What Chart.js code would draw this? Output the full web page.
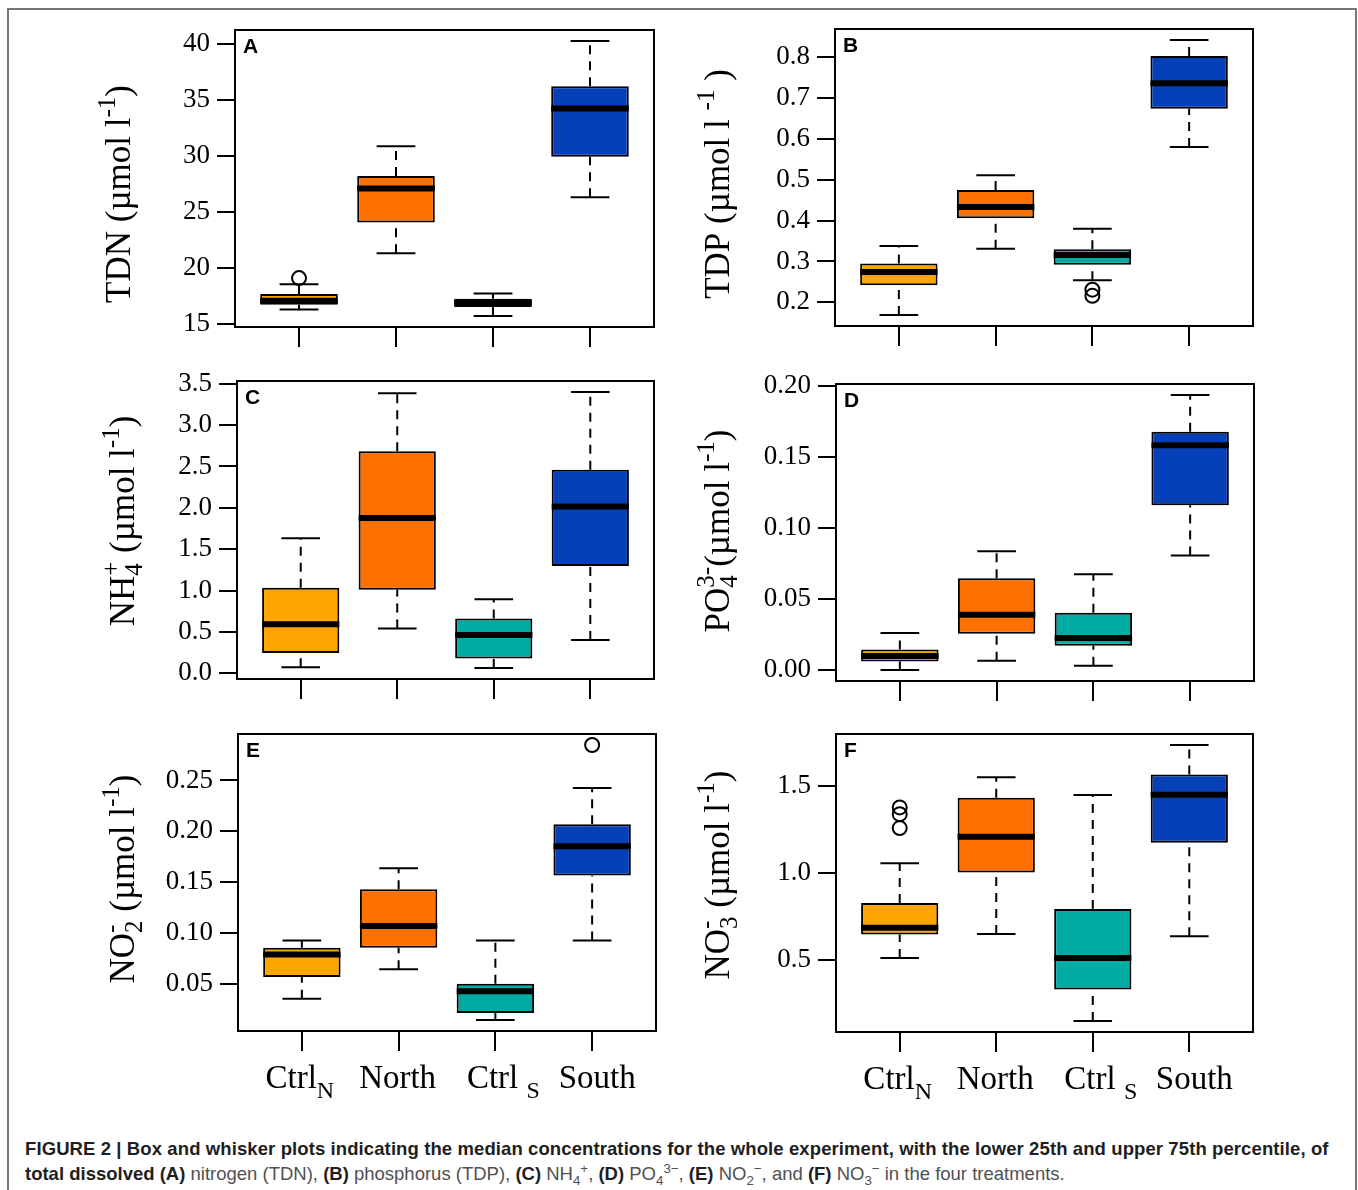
<!DOCTYPE html>
<html>
<head>
<meta charset="utf-8">
<script src="https://cdn.jsdelivr.net/npm/chart.js@4.4.1/dist/chart.umd.min.js"></script>
<style>
  body { margin: 0; background: #fff; width: 1358px; height: 1190px; position: relative; overflow: hidden; }
  .frame { position: absolute; left: 7px; top: 8px; width: 1346px; height: 1200px; border: 2px solid #777; border-bottom: none; }
  canvas { position: absolute; }
  .caption { position: absolute; left: 25px; top: 1136px; font-family: "Liberation Sans", Arial, sans-serif; font-size: 18.5px; line-height: 25px; color: #505050; white-space: nowrap; }
  .caption b { color: #1e1e1e; }
  .caption .head { letter-spacing: 0.1px; }
  .caption sub, .caption sup { font-size: 0.72em; line-height: 0; }
</style>
</head>
<body>
<div class="frame"></div>
<canvas id="panelA"></canvas>
<canvas id="panelB"></canvas>
<canvas id="panelC"></canvas>
<canvas id="panelD"></canvas>
<canvas id="panelE"></canvas>
<canvas id="panelF"></canvas>
<div class="caption">
<b class="head">FIGURE 2 | Box and whisker plots indicating the median concentrations for the whole experiment, with the lower 25th and upper 75th percentile, of</b><br>
<b>total dissolved (A)</b> nitrogen (TDN), <b>(B)</b> phosphorus (TDP), <b>(C)</b> NH<sub>4</sub><sup>+</sup>, <b>(D)</b> PO<sub>4</sub><sup>3−</sup>, <b>(E)</b> NO<sub>2</sub><sup>−</sup>, and <b>(F)</b> NO<sub>3</sub><sup>−</sup> in the four treatments.
</div>
<script>
// treatments, in plotting order
const groups = ['Ctrl_N', 'North', 'Ctrl_S', 'South'];
const groupLabels = [['Ctrl', 'N'], ['North', ''], ['Ctrl ', 'S'], ['South', '']];
const groupColors = ['#FFA500', '#FF7000', '#00ABA3', '#0540B8'];

// per treatment: lower whisker, Q1, median, Q3, upper whisker
const tdnBox = [
  [16.28, 16.70, 17.05, 17.65, 18.54],
  [21.31, 24.05, 27.11, 28.21, 30.89],
  [15.69, 16.49, 16.88, 17.23, 17.70],
  [26.31, 29.94, 34.26, 36.25, 40.30]
];
const tdnOut = [[19.08], [], [], []];
const tdnTicks = [15, 20, 25, 30, 35, 40];

const tdpBox = [
  [0.169, 0.242, 0.274, 0.295, 0.338],
  [0.331, 0.406, 0.433, 0.475, 0.511],
  [0.254, 0.292, 0.316, 0.330, 0.380],
  [0.580, 0.674, 0.736, 0.803, 0.842]
];
const tdpOut = [[], [], [0.231, 0.216], []];
const tdpTicks = [0.2, 0.3, 0.4, 0.5, 0.6, 0.7, 0.8];

const nh4Box = [
  [0.073, 0.246, 0.593, 1.034, 1.631],
  [0.541, 1.009, 1.877, 2.685, 3.383],
  [0.065, 0.178, 0.464, 0.662, 0.896],
  [0.404, 1.296, 2.015, 2.459, 3.399]
];
const nh4Out = [[], [], [], []];
const nh4Ticks = [0, 0.5, 1, 1.5, 2, 2.5, 3, 3.5];

const po4Box = [
  [0.0000, 0.0059, 0.0099, 0.0145, 0.0260],
  [0.0066, 0.0256, 0.0389, 0.0647, 0.0837],
  [0.0030, 0.0171, 0.0225, 0.0403, 0.0675],
  [0.0807, 0.1161, 0.1583, 0.1679, 0.1937]
];
const po4Out = [[], [], [], []];
const po4Ticks = [0, 0.05, 0.1, 0.15, 0.2];

const no2Box = [
  [0.0356, 0.0569, 0.0789, 0.0857, 0.0926],
  [0.0644, 0.0857, 0.1070, 0.1431, 0.1638],
  [0.0146, 0.0215, 0.0428, 0.0503, 0.0926],
  [0.0926, 0.1566, 0.1854, 0.2070, 0.2425]
];
const no2Out = [[], [], [], [0.2848]];
const no2Ticks = [0.05, 0.1, 0.15, 0.2, 0.25];

const no3Box = [
  [0.513, 0.648, 0.687, 0.829, 1.058],
  [0.650, 1.004, 1.210, 1.435, 1.552],
  [0.150, 0.331, 0.513, 0.794, 1.450],
  [0.637, 1.175, 1.452, 1.569, 1.738]
];
const no3Out = [[1.379, 1.340, 1.260], [], [], []];
const no3Ticks = [0.5, 1, 1.5];

const SERIF = '"Liberation Serif", "Times New Roman", serif';
const AXIS_W = 180, PAD_TOP = 30, PAD_RIGHT = 12, X_AXIS_H = 80;
// nudges for the bottom category names, in px
const labelShift = [-2, -1, 8, 5];

// text runs with sub/superscripts; a run marked stack sits over the previous one
function drawRich(ctx, parts, size, x, y, rotate) {
  const small = Math.round(size * 0.72);
  ctx.save();
  ctx.translate(x, y);
  if (rotate) ctx.rotate(-Math.PI / 2);
  let cursor = 0, prevStart = 0, prevEnd = 0;
  const runs = parts.map(p => {
    const fs = (p.sub || p.sup) ? small : size;
    ctx.font = fs + 'px ' + SERIF;
    const w = ctx.measureText(p.t).width;
    const start = p.stack ? prevStart : cursor;
    cursor = p.stack ? Math.max(prevEnd, start + w) : start + w;
    prevStart = start;
    prevEnd = start + w;
    return { p, fs, start };
  });
  const x0 = -cursor / 2;
  ctx.fillStyle = '#000';
  runs.forEach(({ p, fs, start }) => {
    ctx.font = fs + 'px ' + SERIF;
    const dy = p.sup ? -size * 0.36 : p.sub ? size * 0.3 : 0;
    ctx.fillText(p.t, x0 + start, dy);
  });
  ctx.restore();
}

const panelDecor = {
  id: 'panelDecor',
  afterDatasetsDraw(chart) {
    const { ctx, chartArea: a } = chart;
    ctx.save();
    ctx.strokeStyle = '#000';
    ctx.lineWidth = 2;
    ctx.strokeRect(a.left, a.top, a.right - a.left, a.bottom - a.top);
    ctx.restore();
  },
  afterDraw(chart, args, opts) {
    const { ctx, chartArea: a, scales } = chart;
    ctx.save();
    ctx.fillStyle = '#000';
    ctx.font = 'bold 21px "Liberation Sans", Arial, sans-serif';
    ctx.textBaseline = 'alphabetic';
    ctx.fillText(opts.letter, a.left + 8, a.top + 23);

    ctx.textBaseline = 'middle';
    drawRich(ctx, opts.title, 35, a.left + opts.titleDx, a.top + opts.titleDy, true);

    if (opts.xLabels) {
      ctx.textBaseline = 'alphabetic';
      groupLabels.forEach((lab, i) => {
        const parts = [{ t: lab[0] }];
        if (lab[1]) parts.push({ t: lab[1], sub: true });
        drawRich(ctx, parts, 33, scales.x.getPixelForValue(i + 1) + labelShift[i], a.bottom + 57, false);
      });
    }
    ctx.restore();
  }
};

function boxPanel(id, spec) {
  const canvas = document.getElementById(id);
  canvas.width = AXIS_W + spec.w + PAD_RIGHT;
  canvas.height = PAD_TOP + spec.h + X_AXIS_H;
  canvas.style.left = (spec.left - AXIS_W) + 'px';
  canvas.style.top = (spec.top - PAD_TOP) + 'px';

  const stats = spec.stats;
  const all = stats.flat().concat(spec.outliers.flat());
  const lo = Math.min(...all), hi = Math.max(...all), pad = (hi - lo) * 0.04;

  const boxes = [], medians = [], whiskers = [], caps = [], outliers = [];
  stats.forEach((s, i) => {
    const x = i + 1;
    boxes.push({ x, y: [s[1], s[3]] });
    medians.push({ x: x - 0.4, y: s[2] }, { x: x + 0.4, y: s[2] }, { x, y: null });
    whiskers.push({ x, y: s[3] }, { x, y: s[4] }, { x, y: null },
                  { x, y: s[0] }, { x, y: s[1] }, { x, y: null });
    caps.push({ x: x - 0.2, y: s[4] }, { x: x + 0.2, y: s[4] }, { x, y: null },
              { x: x - 0.2, y: s[0] }, { x: x + 0.2, y: s[0] }, { x, y: null });
    spec.outliers[i].forEach(v => outliers.push({ x, y: v }));
  });

  const seg = { pointRadius: 0, borderColor: '#000', tension: 0, spanGaps: false, fill: false };

  return new Chart(canvas, {
    type: 'bar',
    data: {
      datasets: [
        { type: 'scatter', data: outliers, order: 0, pointStyle: 'circle', pointRadius: 7,
          pointBorderWidth: 2, pointBorderColor: '#000', pointBackgroundColor: 'rgba(0,0,0,0)' },
        Object.assign({ type: 'line', data: medians, order: 1, borderWidth: 6, borderCapStyle: 'butt' }, seg),
        Object.assign({ type: 'line', data: caps, order: 2, borderWidth: 2 }, seg),
        Object.assign({ type: 'line', data: whiskers, order: 3, borderWidth: 2, borderDash: [9, 7] }, seg),
        { type: 'bar', data: boxes, order: 4, backgroundColor: groupColors, borderColor: '#000',
          borderWidth: 2, borderSkipped: false, categoryPercentage: 0.8, barPercentage: 1.0 }
      ]
    },
    options: {
      responsive: false,
      animation: false,
      devicePixelRatio: 1,
      events: [],
      layout: { padding: { top: PAD_TOP, right: PAD_RIGHT, left: 0, bottom: 0 } },
      plugins: {
        legend: { display: false },
        tooltip: { enabled: false },
        panelDecor: { letter: spec.letter, title: spec.title, titleDx: spec.titleDx,
                      titleDy: spec.titleDy, xLabels: spec.xLabels }
      },
      scales: {
        x: {
          type: 'linear', min: 0.34, max: 4.66, offset: false,
          grid: { offset: false, drawOnChartArea: false, tickLength: 20, lineWidth: 2, color: '#000' },
          border: { display: false },
          ticks: { display: false },
          afterBuildTicks: s => { s.ticks = groups.map((g, i) => ({ value: i + 1 })); },
          afterFit: s => { s.height = X_AXIS_H; }
        },
        y: {
          type: 'linear', min: lo - pad, max: hi + pad, beginAtZero: false,
          grid: { drawOnChartArea: false, tickLength: 18, lineWidth: 2, color: '#000' },
          border: { display: false },
          ticks: { color: '#000', padding: 7, autoSkip: false, font: { family: SERIF, size: 27 },
                   callback: v => v.toFixed(spec.dec) },
          afterBuildTicks: s => { s.ticks = spec.ticks.map(v => ({ value: v })); },
          afterFit: s => { s.width = AXIS_W; }
        }
      }
    },
    plugins: [panelDecor]
  });
}

const unit = [{ t: ' (µmol l' }, { t: '-1', sup: true }, { t: ')' }];

boxPanel('panelA', { letter: 'A', left: 235, top: 30, w: 419, h: 297, stats: tdnBox, outliers: tdnOut,
  ticks: tdnTicks, dec: 0, titleDx: -114, titleDy: 164,
  title: [{ t: 'TDN' }].concat(unit) });
boxPanel('panelB', { letter: 'B', left: 835, top: 29, w: 418, h: 297, stats: tdpBox, outliers: tdpOut,
  ticks: tdpTicks, dec: 1, titleDx: -115, titleDy: 155,
  title: [{ t: 'TDP (µmol l ' }, { t: '-1', sup: true }, { t: ' )' }] });
boxPanel('panelC', { letter: 'C', left: 237, top: 381, w: 417, h: 298, stats: nh4Box, outliers: nh4Out,
  ticks: nh4Ticks, dec: 1, titleDx: -112, titleDy: 140,
  title: [{ t: 'NH' }, { t: '4', sub: true }, { t: '+', sup: true, stack: true }].concat(unit) });
boxPanel('panelD', { letter: 'D', left: 836, top: 384, w: 418, h: 297, stats: po4Box, outliers: po4Out,
  ticks: po4Ticks, dec: 2, titleDx: -116, titleDy: 147,
  title: [{ t: 'PO' }, { t: '4', sub: true }, { t: '3-', sup: true, stack: true },
          { t: '(µmol l' }, { t: '-1', sup: true }, { t: ')' }] });
boxPanel('panelE', { letter: 'E', left: 238, top: 734, w: 418, h: 297, stats: no2Box, outliers: no2Out,
  ticks: no2Ticks, dec: 2, titleDx: -113, titleDy: 145, xLabels: true,
  title: [{ t: 'NO' }, { t: '2', sub: true }, { t: '-', sup: true, stack: true }].concat(unit) });
boxPanel('panelF', { letter: 'F', left: 836, top: 734, w: 417, h: 298, stats: no3Box, outliers: no3Out,
  ticks: no3Ticks, dec: 1, titleDx: -116, titleDy: 141, xLabels: true,
  title: [{ t: 'NO' }, { t: '3', sub: true }, { t: '-', sup: true, stack: true }].concat(unit) });
</script>
</body>
</html>
